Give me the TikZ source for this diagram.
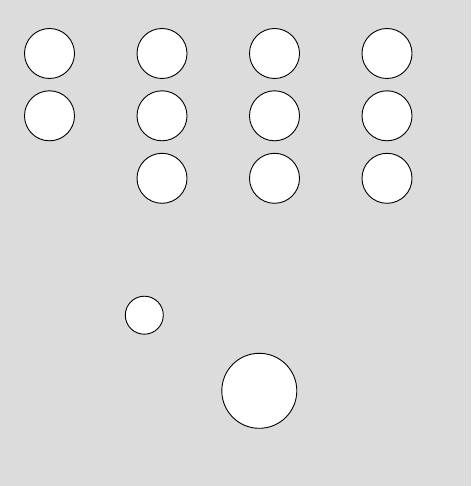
\documentclass[tikz,border=0pt]{standalone}
\definecolor{bg}{HTML}{DCDCDC}
\begin{document}
\begin{tikzpicture}[x=1pt,y=-1pt,
  disc/.style={circle,draw=black,fill=white,line width=0.9pt,inner sep=0pt,minimum size=50pt}]
\fill[bg] (0,0) rectangle (471,486);
\useasboundingbox (0,0) rectangle (471,486);
\node[disc] (a1) at (49.5,53.5) {};
\node[disc] (a2) at (49.5,115.8) {};
\node[disc] (b1) at (162,53.5) {};
\node[disc] (b2) at (162,115.8) {};
\node[disc] (b3) at (162,178.3) {};
\node[disc] (c1) at (274.5,53.5) {};
\node[disc] (c2) at (274.5,115.8) {};
\node[disc] (c3) at (274.5,178.3) {};
\node[disc] (d1) at (387,53.5) {};
\node[disc] (d2) at (387,115.8) {};
\node[disc] (d3) at (387,178.3) {};
\node[disc,minimum size=38pt] (s) at (144.3,315.2) {};
\node[disc,minimum size=75pt] (l) at (259.3,390.8) {};
\end{tikzpicture}
\end{document}
